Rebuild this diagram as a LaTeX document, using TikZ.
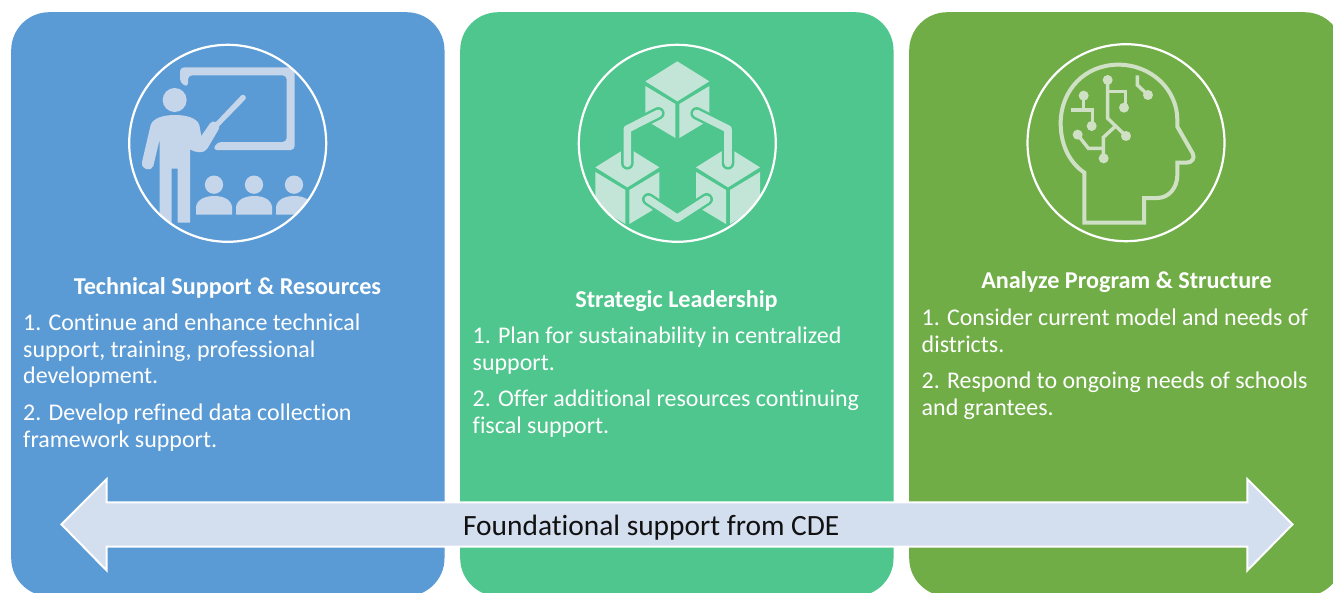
\documentclass[tikz,border=0pt]{standalone}
\usepackage{fontspec}
\setmainfont{Carlito}[Ligatures=NoCommon]
\definecolor{pblue}{HTML}{5B9BD5}
\definecolor{pgreen}{HTML}{4FC68D}
\definecolor{polive}{HTML}{70AD47}
\definecolor{iblue}{HTML}{C5D5EA}
\definecolor{igreen}{HTML}{C3E5D7}
\definecolor{iolive}{HTML}{CFE0C4}
\definecolor{arrowfill}{HTML}{D3DEEF}
\definecolor{ink}{HTML}{111111}
\tikzset{
  panel/.style={rectangle,rounded corners=38pt,minimum width=433.3pt,minimum height=584pt,anchor=north west,inner sep=0pt,draw=none},
  ring/.style={circle,draw=white,line width=2.2pt,minimum size=197pt,inner sep=0pt},
  headtext/.style={font=\fontsize{24.2}{29}\selectfont\bfseries,text=white,inner sep=0pt,anchor=base},
  bodytext/.style={font=\fontsize{23.95}{26.6}\selectfont,text=white,inner sep=0pt,anchor=north west,align=flush left,text width=#1},
}
\begin{document}
\begin{tikzpicture}[x=1pt,y=-1pt]
\useasboundingbox (0,0) rectangle (1333,592);
\clip (0,0) rectangle (1333,592);
\fill[white] (0,0) rectangle (1333,592);
% panels
\node[panel,fill=pblue] (p1) at (11,12) {};
\node[panel,fill=pgreen] (p2) at (460,12) {};
\node[panel,fill=polive] (p3) at (909,12) {};
% teacher icon
\begin{scope}
\clip (227.7,143.3) circle (98pt);
\begin{scope}[shift={(120,60)},scale=1/3,fill=iblue]
\fill[rounded corners=4pt] (180,68) -- (180,22) -- (524,22) -- (524,270) -- (278,270) -- (292,246) -- (500,246) -- (500,46) -- (204,46) -- (204,82) -- cycle;
\fill (164,120) circle (36pt);
\fill (92,195) .. controls (100,172) and (135,165) .. (165,165) .. controls (195,165) and (230,172) .. (238,195) -- (244,228) -- (270,190) .. controls (274,184) and (282,183) .. (288,186) -- (364,106) .. controls (370,100) and (382,110) .. (376,118) -- (298,198) -- (296,208) -- (262,266) .. controls (252,282) and (225,278) .. (210,268) -- (210,488) -- (173,488) -- (173,326) -- (155,326) -- (155,500) -- (119,500) -- (119,238) -- (100,318) .. controls (94,336) and (62,330) .. (66,306) -- cycle;
\foreach \d in {0,120,240}{
  \fill (282+\d,374) circle (27.5pt);
  \fill (228+\d,464) -- (228+\d,440) .. controls (232+\d,415) and (262+\d,408) .. (282+\d,408) .. controls (305+\d,408) and (332+\d,415) .. (336+\d,440) -- (336+\d,464) -- cycle;
}
\end{scope}
\end{scope}
% cubes icon
\begin{scope}
\clip (677.3,143.3) circle (98pt);
\begin{scope}[shift={(570,60)},scale=1/3]
\foreach \cx/\cy in {322/4,172/262,474/262}{
  \fill[igreen] (\cx,\cy) -- (\cx+96,\cy+60) -- (\cx,\cy+120) -- (\cx-96,\cy+60) -- cycle;
  \fill[igreen] (\cx-96,\cy+74) -- (\cx-6,\cy+128) -- (\cx-6,\cy+230) -- (\cx-96,\cy+176) -- cycle;
  \fill[igreen] (\cx+96,\cy+74) -- (\cx+6,\cy+128) -- (\cx+6,\cy+230) -- (\cx+96,\cy+176) -- cycle;
}
\foreach \w/\c in {12.5pt/pgreen,7.6pt/igreen}{
  \draw[\c,line width=\w,line cap=round,line join=round] (265,160) -- (172,207) -- (172,310);
  \draw[\c,line width=\w,line cap=round,line join=round] (380,160) -- (474,207) -- (474,310);
  \draw[\c,line width=\w,line cap=round,line join=round] (235,418) -- (322,475) -- (410,418);
}
\end{scope}
\end{scope}
% head icon
\begin{scope}[shift={(1020,60)},scale=1/3]
\draw[iolive,line width=4pt,line join=miter]
  (193,488) -- (193,338) .. controls (145,305) and (122,250) .. (122,190)
  .. controls (122,90) and (195,14) .. (295,14)
  .. controls (395,14) and (472,90) .. (472,180) -- (472,200) -- (518,280)
  .. controls (526,295) and (515,308) .. (500,308) -- (472,308) -- (472,345)
  .. controls (472,385) and (445,414) .. (412,414) -- (372,414) -- (372,488) -- cycle;
\begin{scope}[iolive,line width=3.4pt]
\draw (263,60) -- (263,175) -- (318,228);
\draw (263,95) -- (316,95) -- (316,143);
\draw (285,200) -- (250,232) -- (250,295);
\draw (173,224) -- (205,265) -- (250,265);
\draw (191,107) -- (191,148);
\draw (152,150) -- (218,150) -- (218,198);
\draw (352,46) -- (352,75) -- (384,105);
\foreach \p in {(263,60),(318,228),(312,143),(251,295),(173,224),(191,107),(215,198),(384,105)}
  \fill \p circle (15pt);
\end{scope}
\end{scope}
% rings
\node[ring] (r1) at (227.7,143.3) {};
\node[ring] (r2) at (677.3,143.3) {};
\node[ring] (r3) at (1126,142.7) {};
% headings
\node[headtext] (h1) at (227.5,294.5) {Technical Support \& Resources};
\node[headtext] (h2) at (676.5,307.5) {Strategic Leadership};
\node[headtext] (h3) at (1126.5,288.5) {Analyze Program \& Structure};
% bodies
\node[bodytext=400pt] (b1a) at (23,313.7) {1. Continue and enhance technical\\support, training, professional\\development.};
\node[bodytext=400pt] (b1b) at (23,403.7) {2. Develop refined data collection\\framework support.};
\node[bodytext=400pt] (b2a) at (472.5,326.7) {1. Plan for sustainability in centralized\\support.};
\node[bodytext=400pt] (b2b) at (472.5,389.7) {2. Offer additional resources continuing\\fiscal support.};
\node[bodytext=400pt] (b3a) at (921.5,308.7) {1. Consider current model and needs of\\districts.};
\node[bodytext=400pt] (b3b) at (921.5,371.7) {2. Respond to ongoing needs of schools\\and grantees.};
% arrow
\draw[fill=arrowfill,draw=white,line width=2pt,miter limit=10]
  (61.5,524.4) -- (106.7,479) -- (106.7,502.3) -- (1247.3,502.3) -- (1247.3,479) -- (1292.5,524.4) -- (1247.3,570.5) -- (1247.3,546.7) -- (106.7,546.7) -- (106.7,570.5) -- cycle;
\node[font=\fontsize{29.4}{34}\selectfont,text=ink,inner sep=0pt,anchor=base] (lab) at (651.3,535.5) {Foundational support from CDE};
\end{tikzpicture}
\end{document}
